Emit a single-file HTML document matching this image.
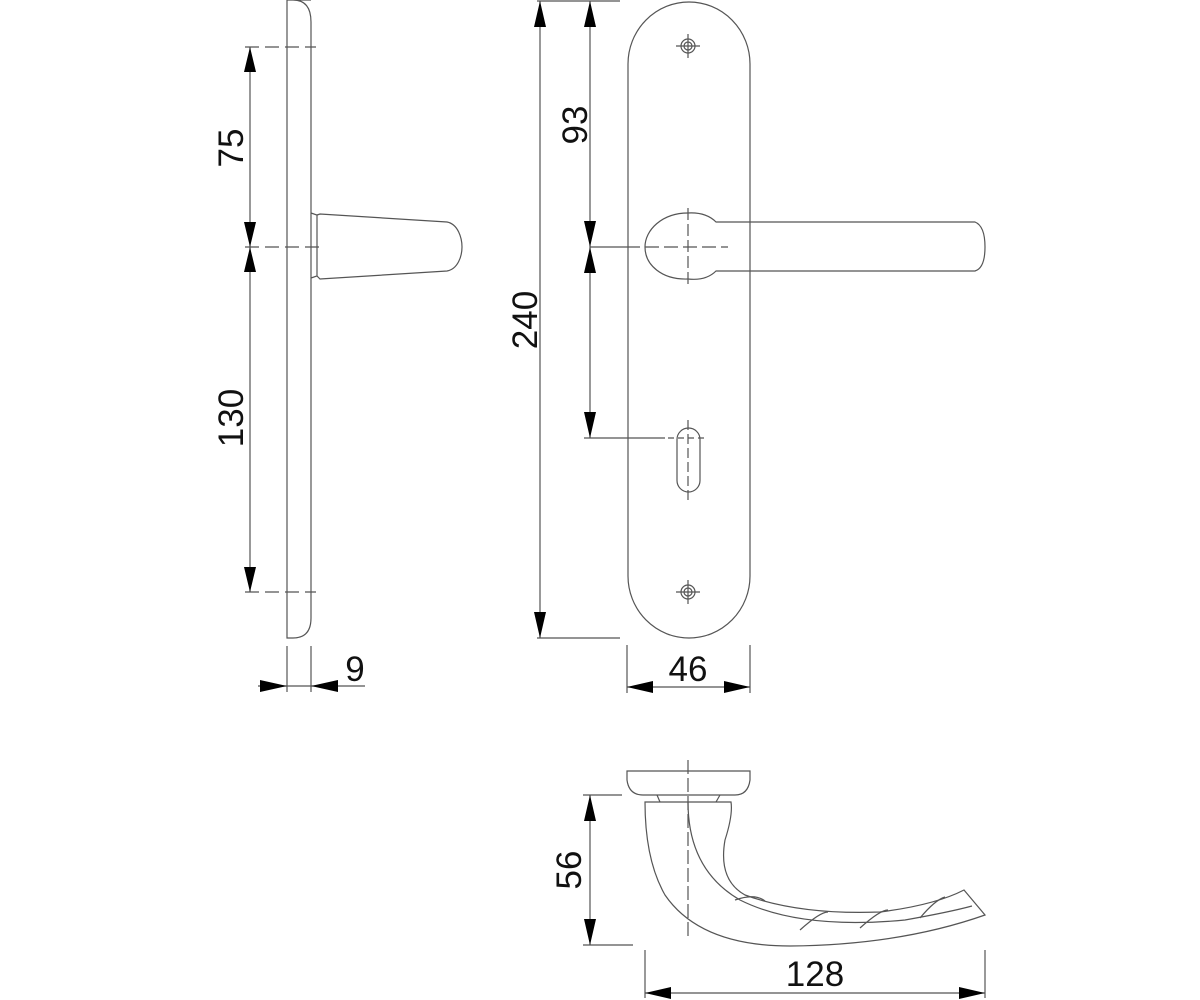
<!DOCTYPE html>
<html><head><style>body{margin:0;background:#fff}svg{display:block}</style></head><body>
<svg width="1200" height="1000" viewBox="0 0 1200 1000" xmlns="http://www.w3.org/2000/svg" font-family="Liberation Sans, sans-serif">
<g fill="none" stroke="#555" stroke-width="1.2">
<!-- side view plate -->
<path d="M287,0 L311,0 M287,0 L287,638 L293,638 Q311,638 311,618 L311,22 Q311,0 293,0"/>
<!-- side handle -->
<path d="M311,213 L317,215 L317,276 L311,278"/>
<path d="M317,215 L320,214 L447,222 C458,224 462,238 462,247 C462,256 458,269 447,271 L320,279 L317,276"/>
<!-- side dim lines -->
<path d="M245,47 L316,47 M245,247 L320,247 M245,592 L316,592" stroke-dasharray="14,6"/>
<line x1="250" y1="47" x2="250" y2="592"/>
<line x1="287" y1="646" x2="287" y2="692"/><line x1="311" y1="646" x2="311" y2="692"/>
<line x1="258" y1="686" x2="365" y2="686"/>
<!-- front plate -->
<path d="M628,64 A61,62 0 0 1 750,64 L750,576 A61,62 0 0 1 628,576 Z"/>
<circle cx="688" cy="46" r="7"/><circle cx="688" cy="46" r="4"/>
<path d="M676,46 L700,46 M688,34 L688,58"/>
<circle cx="688" cy="592" r="7"/><circle cx="688" cy="592" r="4"/>
<path d="M676,592 L700,592 M688,580 L688,604"/>
<rect x="677" y="428" width="23" height="64" rx="11.5"/>
<path d="M688,420 L688,500" stroke-dasharray="10,4"/>
<path d="M668,438 L708,438" stroke-dasharray="6,4"/>
<!-- front handle -->
<path d="M688,213 C662,213 645,230 645,247 C645,265 662,280 688,279"/>
<path d="M688,213 Q706,212 716,222 L975,222 Q985,226 985,247 Q985,268 975,271 L716,271 Q706,281 688,279"/>
<path d="M688,208 L688,285" stroke-dasharray="12,4"/>
<path d="M590,247 L640,247"/>
<path d="M645,247 L728,247" stroke-dasharray="14,5"/>
<!-- front dims -->
<line x1="537" y1="1" x2="620" y2="1"/>
<line x1="540" y1="1" x2="540" y2="638"/>
<line x1="537" y1="638" x2="620" y2="638"/>
<line x1="590" y1="1" x2="590" y2="438"/>
<line x1="584" y1="438" x2="665" y2="438"/>
<line x1="627" y1="645" x2="627" y2="693"/><line x1="750" y1="645" x2="750" y2="693"/>
<line x1="627" y1="687" x2="750" y2="687"/>
<!-- bottom view -->
<path d="M627,771 L750,771 L750,780 Q748,795 735,795 L643,795 Q629,795 627,780 Z"/>
<path d="M657,795 L660,802 M720,795 L716,802"/>
<path d="M645,802 L731,802 Q733,815 725,840 Q718,880 745,895 Q800,915 880,912 Q935,905 964,890 L985,915 Q900,945 790,946 Q700,946 665,895 Q645,860 645,802 Z"/>
<path d="M688,802 Q688,870 740,900 Q800,930 905,920 Q950,912 972,906"/>
<path d="M735,900 Q755,893 765,901 M800,930 Q820,912 828,912 M860,928 Q880,910 888,910 M920,918 Q935,900 945,897"/>
<path d="M688,760 L688,940" stroke-dasharray="14,4"/>
<line x1="583" y1="795" x2="622" y2="795"/>
<line x1="590" y1="795" x2="590" y2="945"/>
<line x1="583" y1="945" x2="633" y2="945"/>
<line x1="645" y1="950" x2="645" y2="998"/><line x1="985" y1="950" x2="985" y2="998"/>
<line x1="645" y1="993" x2="985" y2="993"/>
</g>
<g fill="#000">
<path d="M250,47 L244,72 L256,72Z M250,247 L244,222 L256,222Z M250,247 L244,272 L256,272Z M250,592 L244,567 L256,567Z"/>
<path d="M287,686 L260,680 L260,692Z M311,686 L338,680 L338,692Z"/>
<path d="M540,1 L534,27 L546,27Z M540,638 L534,612 L546,612Z"/>
<path d="M590,1 L584,27 L596,27Z M590,247 L584,221 L596,221Z M590,247 L584,273 L596,273Z M590,438 L584,412 L596,412Z"/>
<path d="M627,687 L653,681 L653,693Z M750,687 L724,681 L724,693Z"/>
<path d="M590,795 L584,821 L596,821Z M590,945 L584,919 L596,919Z"/>
<path d="M645,993 L671,987 L671,999Z M985,993 L959,987 L959,999Z"/>
</g>
<g font-size="35" fill="#111" text-anchor="middle">
<text transform="translate(243,148) rotate(-90)">75</text>
<text transform="translate(243,418) rotate(-90)">130</text>
<text x="355" y="681">9</text>
<text transform="translate(537,320) rotate(-90)">240</text>
<text transform="translate(587,125) rotate(-90)">93</text>
<text x="688" y="681">46</text>
<text transform="translate(581,870) rotate(-90)">56</text>
<text x="815" y="986">128</text>
</g>
</svg>
</body></html>
